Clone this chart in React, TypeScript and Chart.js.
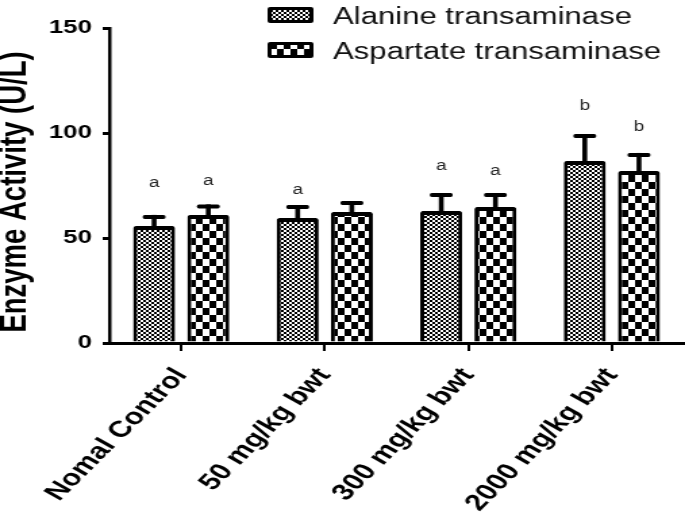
import { useEffect, useRef } from 'react';
import { Chart, registerables } from 'chart.js';

Chart.register(...registerables);

// ---- data ----
const categories = ['Nomal Control', '50 mg/kg bwt', '300 mg/kg bwt', '2000 mg/kg bwt'];
const seriesNames = ['Alanine transaminase', 'Aspartate transaminase'];
const altMeans = [55.7, 59.5, 62.9, 86.7];
const altErrors = [5.3, 6.2, 8.5, 12.8];
const astMeans = [61.0, 62.4, 64.8, 81.9];
const astErrors = [5.0, 5.2, 6.6, 8.6];
const altLetters = ['a', 'a', 'a', 'b'];
const astLetters = ['a', '', 'a', 'b'];
const altLetterLevels = [76, 73, 84, 113];
const astLetterLevels = [77, 0, 82, 103];
const yMin = 0;
const yMax = 150;
const yStep = 50;
const yTitle = 'Enzyme Activity (U/L)';

// ---- geometry (logical canvas is stretched horizontally to the display width) ----
const LOGICAL_W = 507;
const H = 515;
const DISPLAY_W = 685;
const FONT = '"Liberation Sans", Arial, Helvetica, sans-serif';

function makeAltPattern(ctx: CanvasRenderingContext2D) {
  const c = document.createElement('canvas');
  c.width = 4;
  c.height = 4;
  const g = c.getContext('2d')!;
  g.fillStyle = '#000';
  g.fillRect(0, 0, 4, 4);
  g.fillStyle = '#fff';
  g.fillRect(0, 0, 2, 2);
  g.fillRect(2, 2, 2, 2);
  return ctx.createPattern(c, 'repeat')!;
}

function makeAstPattern(ctx: CanvasRenderingContext2D) {
  const c = document.createElement('canvas');
  c.width = 10;
  c.height = 14;
  const g = c.getContext('2d')!;
  g.fillStyle = '#fff';
  g.fillRect(0, 0, 10, 14);
  g.fillStyle = '#000';
  g.fillRect(0, 0, 5, 7);
  g.fillRect(5, 7, 5, 7);
  return ctx.createPattern(c, 'repeat')!;
}

export default function App() {
  const ref = useRef<HTMLCanvasElement | null>(null);

  useEffect(() => {
    document.body.style.margin = '0';
    const canvas = ref.current;
    if (!canvas) return;
    const ctx = canvas.getContext('2d')!;
    const altPattern = makeAltPattern(ctx);
    const astPattern = makeAstPattern(ctx);
    const patterns = [altPattern, astPattern];
    const means = [altMeans, astMeans];
    const errors = [altErrors, astErrors];
    const letters = [altLetters, astLetters];
    const letterLevels = [altLetterLevels, astLetterLevels];

    const overlay = {
      id: 'overlay',
      afterDatasetsDraw(chart: any) {
        const c = chart.ctx as CanvasRenderingContext2D;
        const ys = chart.scales.y;
        c.save();
        for (let d = 0; d < 2; d++) {
          const meta = chart.getDatasetMeta(d);
          meta.data.forEach((bar: any, i: number) => {
            const top = ys.getPixelForValue(means[d][i] + errors[d][i]);
            const barTop = bar.y;
            c.fillStyle = '#000';
            c.fillRect(bar.x - 1.8, top, 3.6, barTop - top + 2);
            // cap
            c.beginPath();
            const cw = 8.5;
            const ch = 4;
            c.moveTo(bar.x - cw + 1.5, top);
            c.lineTo(bar.x + cw - 1.5, top);
            c.quadraticCurveTo(bar.x + cw, top, bar.x + cw, top + ch / 2);
            c.quadraticCurveTo(bar.x + cw, top + ch, bar.x + cw - 1.5, top + ch);
            c.lineTo(bar.x - cw + 1.5, top + ch);
            c.quadraticCurveTo(bar.x - cw, top + ch, bar.x - cw, top + ch / 2);
            c.quadraticCurveTo(bar.x - cw, top, bar.x - cw + 1.5, top);
            c.fill();
            const L = letters[d][i];
            if (L) {
              c.fillStyle = '#222';
              c.font = `14px ${FONT}`;
              c.textAlign = 'center';
              c.textBaseline = 'middle';
              c.fillText(L, bar.x, ys.getPixelForValue(letterLevels[d][i]));
            }
          });
        }
        c.restore();
      },
      afterDraw(chart: any) {
        const c = chart.ctx as CanvasRenderingContext2D;
        c.save();
        // y axis title
        c.translate(11.5, 192);
        c.rotate(-Math.PI / 2);
        c.fillStyle = '#000';
        c.font = `bold 27.5px ${FONT}`;
        c.textAlign = 'center';
        c.textBaseline = 'middle';
        c.fillText(yTitle, 0, 0);
        c.restore();

        // legend
        c.save();
        const rows = [
          { y: 7, base: 24 },
          { y: 42, base: 58.5 },
        ];
        rows.forEach((r, k) => {
          const bx = 198;
          const bw = 34;
          const bh = 16;
          c.fillStyle = '#000';
          c.beginPath();
          (c as any).roundRect(bx, r.y, bw, bh, 2);
          c.fill();
          c.fillStyle = patterns[k];
          c.fillRect(bx + 3, r.y + 3, bw - 6, bh - 6);
          c.fillStyle = '#111';
          c.font = `23px ${FONT}`;
          c.textAlign = 'left';
          c.textBaseline = 'alphabetic';
          c.fillText(seriesNames[k], 246.5, r.base);
        });
        c.restore();
      },
    };

    const chart = new Chart(canvas, {
      type: 'bar',
      data: {
        labels: categories,
        datasets: [0, 1].map((d) => ({
          label: seriesNames[d],
          data: means[d],
          backgroundColor: patterns[d],
          borderColor: '#000',
          borderWidth: { top: 4, left: 3, right: 3, bottom: 0 },
          borderSkipped: 'bottom',
          borderRadius: 2,
          categoryPercentage: 0.755,
          barPercentage: 0.775,
        })),
      },
      options: {
        responsive: false,
        animation: false,
        devicePixelRatio: 1,
        layout: { padding: { top: 28, right: 1, left: 0, bottom: 0 } },
        plugins: {
          legend: { display: false },
          tooltip: { enabled: false },
          title: { display: false },
        },
        scales: {
          x: {
            afterFit(s: any) {
              s.height = 172;
            },
            ticks: {
              color: '#000',
              font: { family: FONT, size: 23, weight: 'bold' },
              minRotation: 53,
              maxRotation: 53,
              autoSkip: false,
              padding: 12,
            },
            grid: {
              display: true,
              drawOnChartArea: false,
              drawTicks: true,
              tickLength: 8,
              color: '#000',
              lineWidth: 2,
              offset: false,
            },
            border: { display: true, color: '#000', width: 3 },
          },
          y: {
            min: yMin,
            max: yMax,
            afterFit(s: any) {
              s.width = 81;
            },
            ticks: {
              stepSize: yStep,
              color: '#000',
              font: { family: FONT, size: 19, weight: 'bold' },
              padding: 8,
            },
            grid: {
              display: true,
              drawOnChartArea: false,
              drawTicks: true,
              tickLength: 5,
              color: '#000',
              lineWidth: 3,
            },
            border: { display: true, color: '#000', width: 2.5 },
          },
        },
      } as any,
      plugins: [overlay],
    });

    return () => {
      chart.destroy();
    };
  }, []);

  return (
    <div style={{ width: DISPLAY_W, height: H, background: '#fff' }}>
      <canvas
        ref={ref}
        width={LOGICAL_W}
        height={H}
        style={{ width: DISPLAY_W + 'px', height: H + 'px', display: 'block' }}
      />
    </div>
  );
}
